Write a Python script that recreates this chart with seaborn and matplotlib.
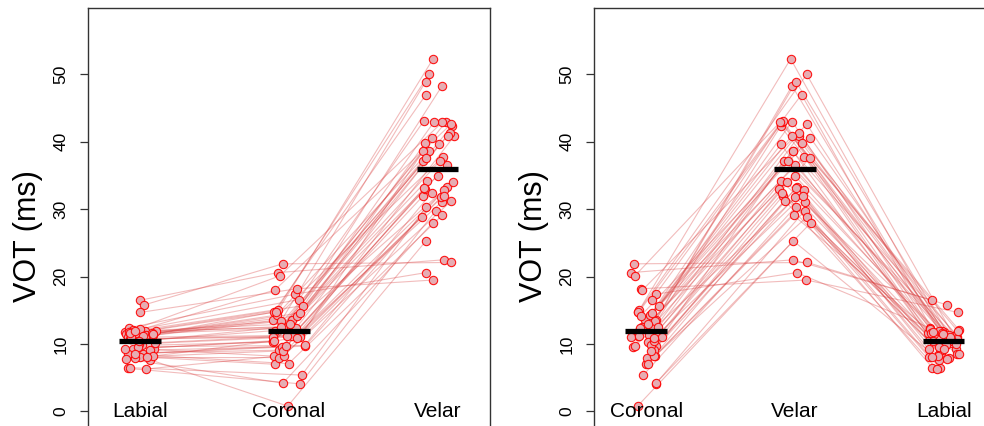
import numpy as np
import pandas as pd
import matplotlib
matplotlib.use("Agg")
import matplotlib.pyplot as plt
import seaborn as sns

sns.set_style("white")
plt.rcParams['font.family'] = ['Liberation Sans', 'DejaVu Sans']
plt.rcParams['text.color'] = 'black'
plt.rcParams['ytick.color'] = 'black'
plt.rcParams['ytick.labelcolor'] = 'black'

# ---- data (VOT in ms, one entry per speaker) ----
labial = [10.9, 16.5, 8.6, 11.8, 12.4, 9.2, 11.5, 6.4, 10.2, 15.8, 11.7, 8.1, 12.0, 9.3, 11.0, 7.7,
          11.4, 14.7, 8.7, 10.5, 11.9, 6.5, 9.8, 12.2, 8.0, 11.2, 10.8, 9.1, 11.6, 8.5, 10.0, 12.1,
          7.8, 11.3, 9.6, 11.8, 6.3, 10.7, 8.2, 11.1, 9.2, 11.7, 8.6, 10.4, 11.5, 8.1, 11.9]
coronal = [13.5, 20.6, 9.7, 12.5, 17.4, 8.2, 14.7, 4.1, 11.2, 21.9, 12.6, 7.0, 15.0, 10.4, 11.3, 0.8,
           14.3, 18.2, 9.1, 12.0, 13.6, 5.4, 10.3, 16.6, 8.0, 14.8, 11.0, 9.6, 12.4, 7.1, 11.1, 20.1,
           4.2, 13.4, 9.8, 15.7, 8.3, 11.2, 9.0, 14.2, 10.5, 18.0, 9.7, 12.5, 14.6, 10.9, 13.0]
velar = [37.8, 22.5, 33.3, 42.3, 20.6, 31.1, 47.0, 29.8, 36.6, 22.1, 43.0, 28.9, 52.3, 34.2, 40.8, 25.3,
         38.6, 19.5, 32.0, 41.3, 48.3, 30.4, 35.0, 43.1, 31.8, 50.0, 37.2, 33.0, 39.6, 29.1, 40.6, 42.9,
         28.0, 48.9, 32.4, 43.0, 31.2, 39.8, 33.2, 37.1, 34.0, 42.6, 32.8, 38.6, 40.9, 32.0, 37.6]
values = {"Labial": labial, "Coronal": coronal, "Velar": velar}
orders = [["Labial", "Coronal", "Velar"], ["Coronal", "Velar", "Labial"]]
yticks = [0, 10, 20, 30, 40, 50]

W, H = 984, 426
fig = plt.figure(figsize=(W / 100, H / 100), dpi=100)
ax_w = 401.7
top_px, bot_px = 8.3, 427.0
lefts = [88.0, 594.0]

rng = np.random.default_rng(11)

for k, order in enumerate(orders):
    ax = fig.add_axes([lefts[k] / W, 1 - bot_px / H, ax_w / W, (bot_px - top_px) / H])
    rows = []
    n = len(labial)
    jit = {c: rng.uniform(-0.11, 0.11, n) for c in order}
    for s in range(n):
        for p, c in enumerate(order):
            rows.append(dict(subj=s, cat=c, pos=p + 1, vot=values[c][s], xj=p + 1 + jit[c][s]))
    df = pd.DataFrame(rows).sort_values(["subj", "pos"])

    sns.lineplot(data=df, x="xj", y="vot", units="subj", estimator=None, sort=False,
                 color=(0.85, 0.25, 0.25), alpha=0.35, lw=0.8, ax=ax, legend=False)
    sns.scatterplot(data=df, x="xj", y="vot", s=36, color=(0.9, 0.68, 0.7),
                    edgecolor=(1, 0, 0, 0.9), linewidth=0.8, ax=ax, legend=False, zorder=3)

    means = df.groupby("pos")["vot"].mean()
    ax.hlines(means.values, means.index - 0.14, means.index + 0.14, color="black", lw=3.8, zorder=4)

    for p, c in enumerate(order):
        ax.text(p + 1, 0, c, ha="center", va="center", fontsize=15, color="black", zorder=5)

    ax.set_xlim(0.65, 3.35)
    ax.set_ylim(-2.3, 59.8)
    ax.set_xticks([])
    ax.set_yticks(yticks)
    ax.set_yticklabels([str(t) for t in yticks])
    ax.tick_params(axis="y", labelrotation=90, length=6, width=0.9, pad=8, labelsize=12.5,
                   left=True, color="#333333", labelcolor="black")
    for lab in ax.get_yticklabels():
        lab.set_va("center")
    ax.set_xlabel("")
    ax.set_ylabel("")
    ax.text(-0.149, 26.0, "VOT (ms)", rotation=90, fontsize=22, ha="center", va="center",
            color="black", transform=ax.get_yaxis_transform())
    for sp in ax.spines.values():
        sp.set_color("#333333")
        sp.set_linewidth(1.0)

fig.savefig("out.png", dpi=100)
